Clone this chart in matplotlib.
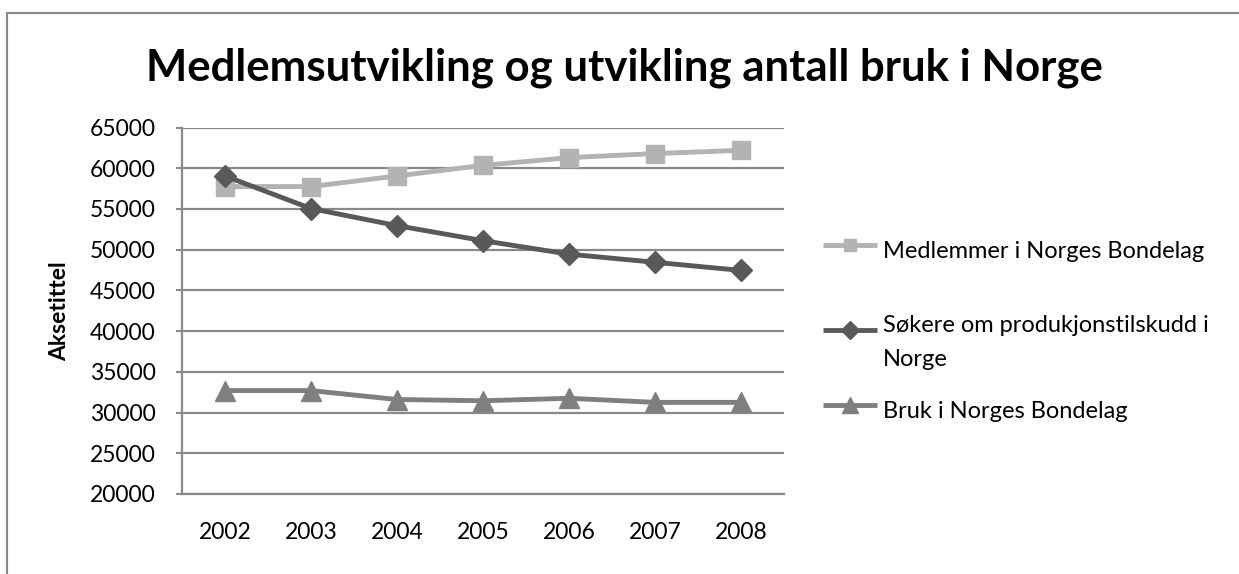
import matplotlib.pyplot as plt
from matplotlib.lines import Line2D

years = ["2002", "2003", "2004", "2005", "2006", "2007", "2008"]
medlemmer = [57750, 57750, 59050, 60350, 61300, 61800, 62200]
sokere = [59050, 55050, 52950, 51100, 49450, 48450, 47450]
bruk = [32700, 32700, 31600, 31450, 31750, 31250, 31250]

labels = ["Medlemmer i Norges Bondelag",
          "Søkere om produkjonstilskudd i\nNorge",
          "Bruk i Norges Bondelag"]
colors = ["#b3b3b3", "#595959", "#7f7f7f"]
markers = ["s", "D", "^"]
msizes = [13, 11, 14]

plt.rcParams['font.family'] = ['Lato', 'DejaVu Sans']

W, H = 1239, 574
fig = plt.figure(figsize=(W / 100, H / 100), dpi=100)
ax = fig.add_axes([182 / W, 1 - 494 / H, 602 / W, 366.5 / H])

x = range(len(years))
series = [medlemmer, sokere, bruk]
for vals, c, m, ms, lab in zip(series, colors, markers, msizes, labels):
    ax.plot(x, vals, color=c, lw=3.5, marker=m, ms=ms, mec=c, label=lab, zorder=3)

ax.set_xlim(-0.5, 6.5)
ax.set_ylim(20000, 65000)
ax.set_yticks(range(20000, 65001, 5000))
ax.set_xticks(list(x))
ax.set_xticklabels(years)
ax.tick_params(axis="x", labelsize=16.5, length=0, pad=20)
ax.tick_params(axis="y", labelsize=16.5, length=4, width=1.5, color="#898989",
               direction="out", pad=15)
ax.grid(axis="y", color="#898989", lw=1.6)
ax.set_axisbelow(True)
for s in ["top", "right"]:
    ax.spines[s].set_visible(False)
for s in ["left", "bottom"]:
    ax.spines[s].set_color("#898989")
    ax.spines[s].set_linewidth(1.6)

ax.set_ylabel("Aksetittel", fontsize=16.5, fontweight="bold", labelpad=14)
fig.text(624 / W, 1 - 80 / H, "Medlemsutvikling og utvikling antall bruk i Norge",
         ha="center", va="baseline", fontsize=31.5, fontweight="bold")

# legend, laid out like the Excel one (handle on the first text line)
leg_y = [245, 330, 405]
for lab, c, m, y in zip(labels, colors, markers, leg_y):
    yf = 1 - y / H
    ms = 11 if m == "^" else 9
    fig.add_artist(Line2D([823 / W, 877 / W], [yf, yf], transform=fig.transFigure,
                          color=c, lw=3.5, solid_capstyle="butt"))
    fig.add_artist(Line2D([850 / W], [yf], transform=fig.transFigure,
                          color=c, lw=0, marker=m, ms=ms, mec=c))
    fig.text(883 / W, 1 - (y + 4) / H, lab, ha="left", va="center_baseline",
             fontsize=17, linespacing=1.75)

# chart area border (left and top edges are inside the picture)
fig.add_artist(Line2D([7 / W, 7 / W, 1.0], [0.0, 1 - 13 / H, 1 - 13 / H],
                      transform=fig.transFigure, color="#898989", lw=1.5))

fig.savefig("out.png", dpi=100)
